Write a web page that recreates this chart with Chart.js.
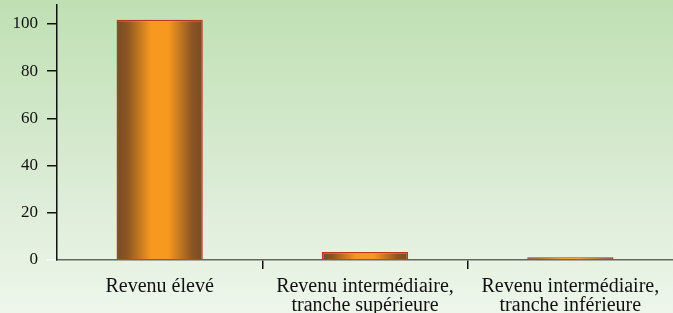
<!DOCTYPE html>
<html>
<head>
<meta charset="utf-8">
<script src="https://cdn.jsdelivr.net/npm/chart.js@4"></script>
<style>
  html, body { margin: 0; padding: 0; background: #e8f3e3; }
  #wrap { width: 673px; height: 313px; }
</style>
</head>
<body>
<div id="wrap"><canvas id="incomeChart" width="673" height="313"></canvas></div>
<script>
  const categories = [
    ['Revenu élevé'],
    ['Revenu intermédiaire,', 'tranche supérieure'],
    ['Revenu intermédiaire,', 'tranche inférieure']
  ];
  const values = [101.8, 3.4, 1.2];
  const yTicks = [0, 20, 40, 60, 80, 100];

  const bgPlugin = {
    id: 'bg',
    beforeDraw: (chart) => {
      const ctx = chart.ctx;
      const g = ctx.createLinearGradient(0, 0, 0, chart.height);
      g.addColorStop(0, '#bfe0b3');
      g.addColorStop(0.6, '#dcecd6');
      g.addColorStop(1, '#eef6eb');
      ctx.save();
      ctx.fillStyle = g;
      ctx.fillRect(0, 0, chart.width, chart.height);
      ctx.restore();
    }
  };

  // cylinder-like shading across each bar
  const barFill = (context) => {
    const chart = context.chart;
    const xScale = chart.scales.x;
    if (!chart.chartArea || !xScale || context.dataIndex === undefined) return '#f7991f';
    const cx = xScale.getPixelForValue(context.dataIndex);
    const w = (xScale.width / categories.length) * 0.42;
    const g = chart.ctx.createLinearGradient(cx - w / 2, 0, cx + w / 2, 0);
    g.addColorStop(0, '#7a4a22');
    g.addColorStop(0.12, '#8a5424');
    g.addColorStop(0.4, '#f7991f');
    g.addColorStop(0.6, '#f7991f');
    g.addColorStop(0.88, '#8a5424');
    g.addColorStop(1, '#7a4a22');
    return g;
  };

  const serif = '"Liberation Serif", "Times New Roman", serif';

  const ctx = document.getElementById('incomeChart').getContext('2d');
  new Chart(ctx, {
    type: 'bar',
    data: {
      labels: categories,
      datasets: [{
        data: values,
        backgroundColor: barFill,
        borderColor: '#b5381f',
        borderWidth: 1.5,
        barPercentage: 0.42,
        categoryPercentage: 1
      }]
    },
    options: {
      responsive: false,
      animation: false,
      layout: { padding: { top: 5, right: 0, left: 0, bottom: 0 } },
      plugins: {
        legend: { display: false },
        title: { display: false },
        tooltip: { enabled: false }
      },
      scales: {
        x: {
          offset: true,
          grid: {
            offset: true,
            drawOnChartArea: false,
            drawTicks: true,
            tickLength: 9,
            // only the inner category boundaries get a tick
            color: (c) => (c.type !== 'tick' || c.index === 0) ? 'rgba(0,0,0,0)' : '#111',
            lineWidth: 1.5
          },
          border: { display: true, color: '#666', width: 1.5 },
          ticks: {
            color: '#111',
            padding: 8,
            maxRotation: 0,
            autoSkip: false,
            font: { family: serif, size: 20, lineHeight: 0.95 }
          },
          afterFit: (scale) => { scale.height = 53; }
        },
        y: {
          min: 0,
          max: 108,
          afterBuildTicks: (scale) => { scale.ticks = yTicks.map(v => ({ value: v })); },
          grid: {
            drawOnChartArea: false,
            drawTicks: true,
            tickLength: 10,
            color: (c) => c.tick && c.tick.value === 0 ? '#ffffff' : '#111',
            lineWidth: 1.5
          },
          border: { display: true, color: '#111', width: 1.5 },
          ticks: {
            color: '#111',
            padding: 9,
            font: { family: serif, size: 17 }
          },
          afterFit: (scale) => {
            scale.width = 57;
            scale.paddingTop = 0;
            scale.paddingBottom = 0;
          }
        }
      }
    },
    plugins: [bgPlugin]
  });
</script>
</body>
</html>
